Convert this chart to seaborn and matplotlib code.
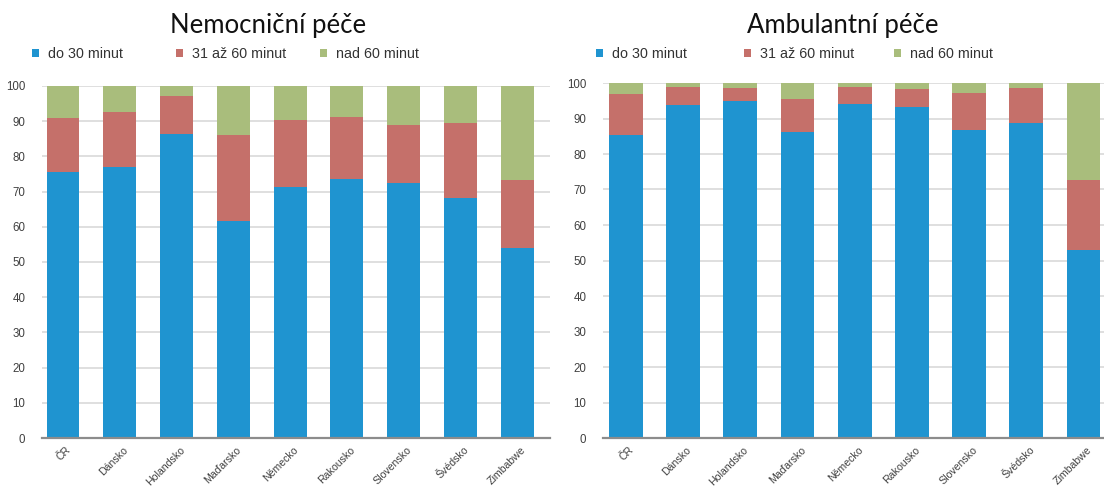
import matplotlib
matplotlib.use("Agg")
import matplotlib.pyplot as plt
from matplotlib.patches import Patch
from matplotlib.transforms import ScaledTranslation
import numpy as np
import pandas as pd
import seaborn as sns

# Countries on the x axis
countries = ["ČR", "Dánsko", "Holandsko", "Maďarsko", "Německo",
             "Rakousko", "Slovensko", "Švédsko", "Zimbabwe"]

# Share of patients (%) by travel time - hospital care
hosp_30 = [75.5, 77.1, 86.3, 61.6, 71.2, 73.7, 72.5, 68.3, 54.0]
hosp_60 = [15.4, 15.6, 10.9, 24.6, 19.1, 17.6, 16.3, 21.1, 19.4]

# Share of patients (%) by travel time - outpatient care
amb_30 = [85.4, 93.8, 95.0, 86.2, 94.0, 93.2, 86.8, 88.7, 52.9]
amb_60 = [11.5, 5.2, 3.5, 9.3, 4.9, 5.1, 10.5, 10.0, 19.9]

series_labels = ["do 30 minut", "31 až 60 minut", "nad 60 minut"]
colors = ["#1f94d0", "#c5706a", "#a9bd7c"]

titles = ["Nemocniční péče", "Ambulantní péče"]

sns.set_theme(style="white")
plt.rcParams["font.family"] = ["Liberation Sans", "DejaVu Sans"]

fig = plt.figure(figsize=(11.04, 4.86), dpi=100)

# axes rectangles in figure fractions
rects = [
    [42 / 1104, 48 / 486, 508 / 1104, 352 / 486],
    [603 / 1104, 48 / 486, 501 / 1104, 355 / 486],
]
xlims = [(-0.37, 8.58), (-0.40, 8.36)]
bar_w = [0.58, 0.59]
title_x = [268 / 1104, 843 / 1104]
legend_x = [[32, 176, 320], [596, 744, 894]]


def draw_panel(ax, below, middle, width):
    below = np.array(below)
    middle = np.array(middle)
    top = 100 - below - middle
    df = pd.DataFrame({
        "country": countries,
        "s1": below,
        "s2": below + middle,
        "s3": below + middle + top,
    })
    # stacked bars drawn as overlapping cumulative totals, tallest first
    for col, c in zip(["s3", "s2", "s1"], colors[::-1]):
        sns.barplot(data=df, x="country", y=col, color=c, width=width,
                    saturation=1, ax=ax, order=countries, edgecolor="none",
                    zorder=3)


for i, (below, middle) in enumerate([(hosp_30, hosp_60), (amb_30, amb_60)]):
    ax = fig.add_axes(rects[i])
    draw_panel(ax, below, middle, bar_w[i])
    ax.set_ylim(0, 100)
    ax.set_xlim(*xlims[i])
    ax.set_yticks(np.arange(0, 101, 10))
    ax.set_xlabel("")
    ax.set_ylabel("")
    ax.yaxis.grid(True, color="#d9d9d9", linewidth=1.2, zorder=0)
    ax.set_axisbelow(True)
    for s in ["top", "right", "left"]:
        ax.spines[s].set_visible(False)
    ax.spines["bottom"].set_color("#8c8c8c")
    ax.spines["bottom"].set_linewidth(1.6)
    ax.spines["bottom"].set_zorder(4)
    ax.tick_params(axis="y", length=0, pad=12, labelsize=8.3,
                   labelcolor="#404040")
    ax.tick_params(axis="x", length=0, pad=5, labelsize=7.6,
                   labelcolor="#404040")
    ax.set_xticks(range(len(countries)))
    ax.set_xticklabels(countries, rotation=45, ha="right",
                       rotation_mode="anchor")
    for lab in ax.get_xticklabels():
        lab.set_transform(lab.get_transform() +
                          ScaledTranslation(3 / 100, 0, fig.dpi_scale_trans))

    fig.text(title_x[i], 1 - 33 / 486, titles[i], ha="center",
             va="baseline", fontsize=18.5, family=["Lato", "DejaVu Sans"],
             color="#111111")

    for j in range(3):
        leg = fig.legend(handles=[Patch(facecolor=colors[j], edgecolor="none")],
                         labels=[series_labels[j]], loc="center left",
                         bbox_to_anchor=(legend_x[i][j] / 1104, 1 - 54 / 486),
                         frameon=False, borderpad=0, borderaxespad=0,
                         handlelength=0.5, handleheight=0.5,
                         handletextpad=0.65, fontsize=10.3)
        for t in leg.get_texts():
            t.set_color("#333333")

fig.savefig("out.png", dpi=100)
